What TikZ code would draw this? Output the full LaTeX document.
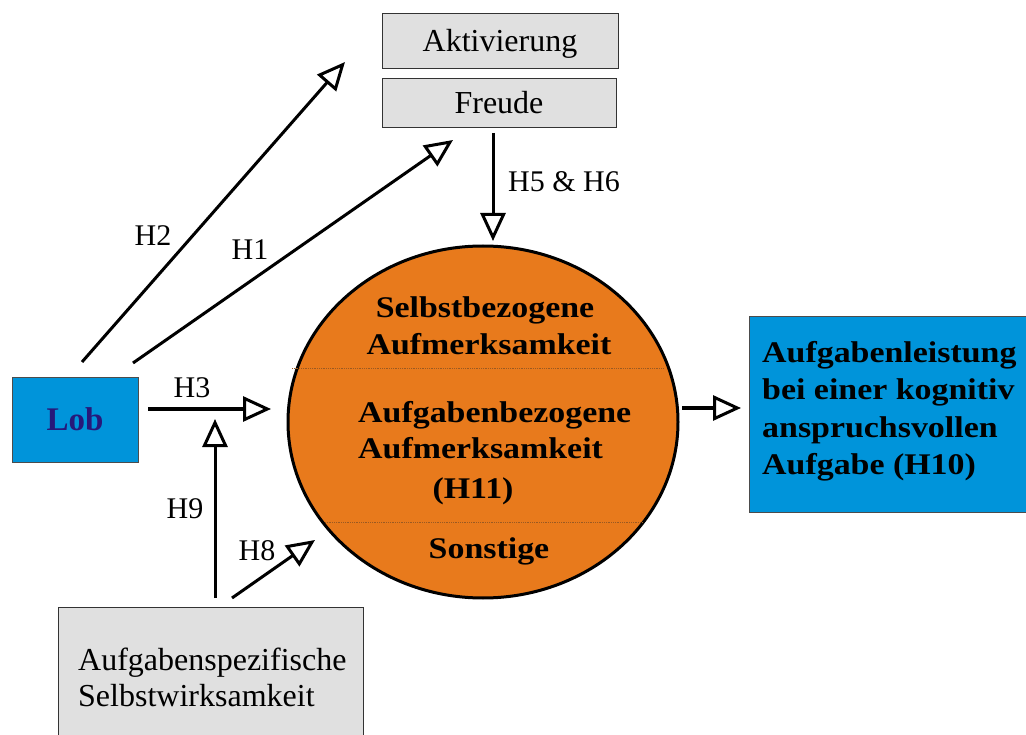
\documentclass[tikz,border=0pt]{standalone}
\usepackage{fontspec}
\setmainfont{Liberation Serif}
\newfontfamily\bst{Liberation Serif}[FakeStretch=1.13]
\usetikzlibrary{arrows.meta,shapes.geometric}
\definecolor{grayfill}{HTML}{E0E0E0}
\definecolor{bluefill}{HTML}{0094DA}
\definecolor{orangefill}{HTML}{E87A1C}
\definecolor{lobtext}{HTML}{27187A}
\definecolor{sepcol}{HTML}{9A5A22}
\begin{document}
\begin{tikzpicture}[x=1pt,y=-1pt,
  graybox/.style={draw=black!80,line width=0.8pt,fill=grayfill,inner sep=0pt},
  bluebox/.style={draw=black!70,line width=0.8pt,fill=bluefill,inner sep=0pt},
  reg/.style={font=\fontsize{32}{36}\selectfont},
  lbl/.style={font=\fontsize{30}{34}\selectfont,inner sep=0pt},
  bigb/.style={font=\bst\bfseries\fontsize{30}{37.5}\selectfont,inner sep=0pt},
  conn/.style={line width=3pt,-{Triangle[fill=white,length=28pt,width=25pt,line width=3pt]}}]
\useasboundingbox (0,0) rectangle (1026,735);
% boxes
\node[graybox,minimum width=236pt,minimum height=55pt] (akt) at (500,40.5) {};
\node[reg,anchor=base] (aktt) at (500,52) {Aktivierung};
\node[graybox,minimum width=234pt,minimum height=49pt] (fre) at (499,102.5) {};
\node[reg,anchor=base] (fret) at (499,114) {Freude};
\node[bluebox,minimum width=126pt,minimum height=85pt,font=\bfseries\fontsize{33}{36}\selectfont,text=lobtext] (lob) at (75,419.5) {Lob};
\node[bluebox,minimum width=281pt,minimum height=196pt] (perf) at (889.5,414) {};
\node[bigb,align=left,anchor=west] (perft) at (762,411) {Aufgabenleistung\\bei einer kognitiv\\anspruchsvollen\\Aufgabe (H10)};
\node[graybox,minimum width=305pt,minimum height=141pt] (sw) at (210.5,677.5) {};
\node[align=left,anchor=west,inner sep=0pt,font=\fontsize{32}{36}\selectfont] (swt) at (78,677) {Aufgabenspezifische\\Selbstwirksamkeit};
% ellipse
\node[ellipse,draw=black,line width=3pt,fill=orangefill,minimum width=390pt,minimum height=352pt,inner sep=0pt] (att) at (483,422) {};
\draw[sepcol,line width=0.8pt,densely dotted] (292,368) -- (663,368);
\draw[sepcol,line width=0.8pt,densely dotted] (325,522) -- (643,522);
\node[bigb,anchor=base] (t1) at (485,318) {Selbstbezogene};
\node[bigb,anchor=base] (t2) at (489,355) {Aufmerksamkeit};
\node[bigb,anchor=base west] (t3) at (358,422) {Aufgabenbezogene};
\node[bigb,anchor=base west] (t4) at (358,458) {Aufmerksamkeit};
\node[bigb,anchor=base] (t5) at (473,498) {(H11)};
\node[bigb,anchor=base] (t6) at (489,558) {Sonstige};
% arrow end coordinates
\coordinate (h2s) at (82,362);
\coordinate (h2e) at (345,62);
\coordinate (h1s) at (133,363);
\coordinate (h1e) at (453,140);
\coordinate (h56s) at (493,133);
\coordinate (h56e) at (493,241);
\coordinate (h3s) at (148,409);
\coordinate (h3e) at (271,409);
\coordinate (h9s) at (215,598);
\coordinate (h9e) at (215,419);
\coordinate (h8s) at (232,598);
\coordinate (h8e) at (315,540);
\coordinate (outs) at (682,408);
\coordinate (oute) at (741,408);
\draw[conn] (h2s) -- (h2e);
\draw[conn] (h1s) -- (h1e);
\draw[conn] (h56s) -- (h56e);
\draw[conn] (h3s) -- (h3e);
\draw[conn] (h9s) -- (h9e);
\draw[conn] (h8s) -- (h8e);
\draw[conn] (outs) -- (oute);
% labels
\node[lbl,anchor=base] (l2) at (153,246) {H2};
\node[lbl,anchor=base] (l1) at (250,260) {H1};
\node[lbl,anchor=base west] (l56) at (508,192) {H5 \& H6};
\node[lbl,anchor=base] (l3) at (192,398) {H3};
\node[lbl,anchor=base] (l9) at (185,518) {H9};
\node[lbl,anchor=base] (l8) at (257,560) {H8};
\end{tikzpicture}
\end{document}
